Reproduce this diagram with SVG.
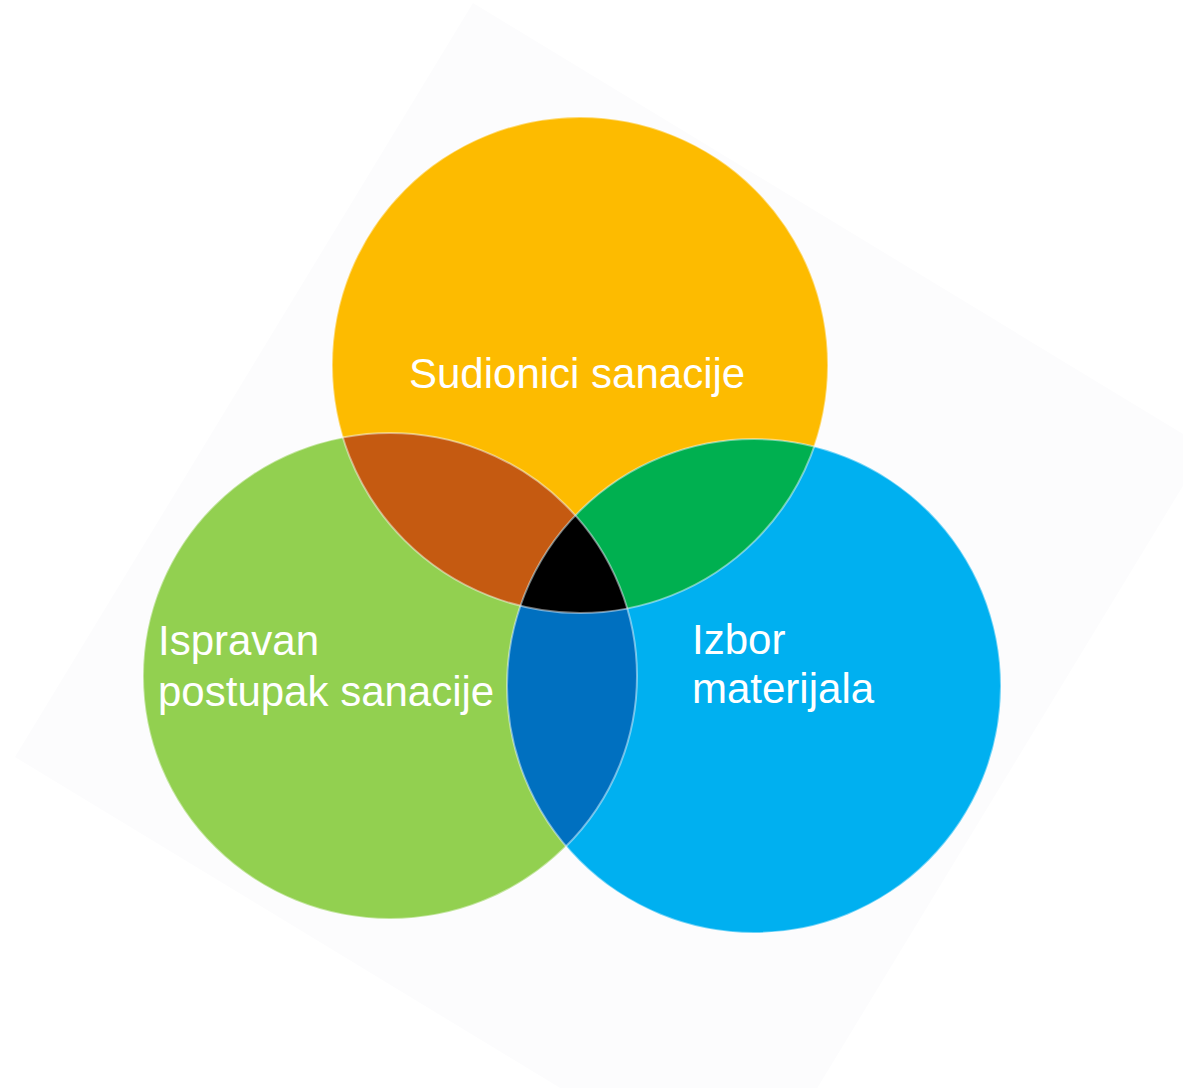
<svg xmlns="http://www.w3.org/2000/svg" width="1183" height="1088" viewBox="0 0 1183 1088">
  <style>
    .lbl { font-family: "Liberation Sans", Arial, sans-serif; font-size: 42px; fill: #ffffff; }
    .edge { fill: none; stroke: #ffffff; stroke-opacity: 0.45; stroke-width: 2; }
  </style>
  <defs>
    <clipPath id="cY"><circle cx="580" cy="365" r="248"/></clipPath>
    <clipPath id="cG"><ellipse cx="390" cy="676" rx="247" ry="243"/></clipPath>
    <clipPath id="cB"><circle cx="754" cy="686" r="247"/></clipPath>
  </defs>
  <rect width="1183" height="1088" fill="#ffffff"/>
  <polygon points="473,3 1206,448 748,1202 15,757" fill="#fcfcfd"/>

  <g id="sudionici">
    <circle cx="580" cy="365" r="248" fill="#fdbb00"/>
  </g>
  <g id="ispravan">
    <ellipse cx="390" cy="676" rx="247" ry="243" fill="#92d050"/>
  </g>
  <g id="izbor">
    <circle cx="754" cy="686" r="247" fill="#00b0f0"/>
  </g>
  <g id="overlaps">
    <ellipse cx="390" cy="676" rx="247" ry="243" fill="#c55a11" clip-path="url(#cY)"/>
    <circle cx="754" cy="686" r="247" fill="#00b050" clip-path="url(#cY)"/>
    <circle cx="754" cy="686" r="247" fill="#0070c0" clip-path="url(#cG)"/>
    <g clip-path="url(#cY)">
      <circle cx="754" cy="686" r="247" fill="#000000" clip-path="url(#cG)"/>
    </g>
    <circle class="edge" cx="580" cy="365" r="248"/>
    <ellipse class="edge" cx="390" cy="676" rx="247" ry="243"/>
    <circle class="edge" cx="754" cy="686" r="247"/>
  </g>
  <g id="labels">
    <text class="lbl" x="409" y="388">Sudionici sanacije</text>
    <text class="lbl" x="158" y="655">Ispravan</text>
    <text class="lbl" x="158" y="706">postupak sanacije</text>
    <text class="lbl" x="692" y="654">Izbor</text>
    <text class="lbl" x="692" y="703">materijala</text>
  </g>
  <g id="connectors"/>
</svg>
